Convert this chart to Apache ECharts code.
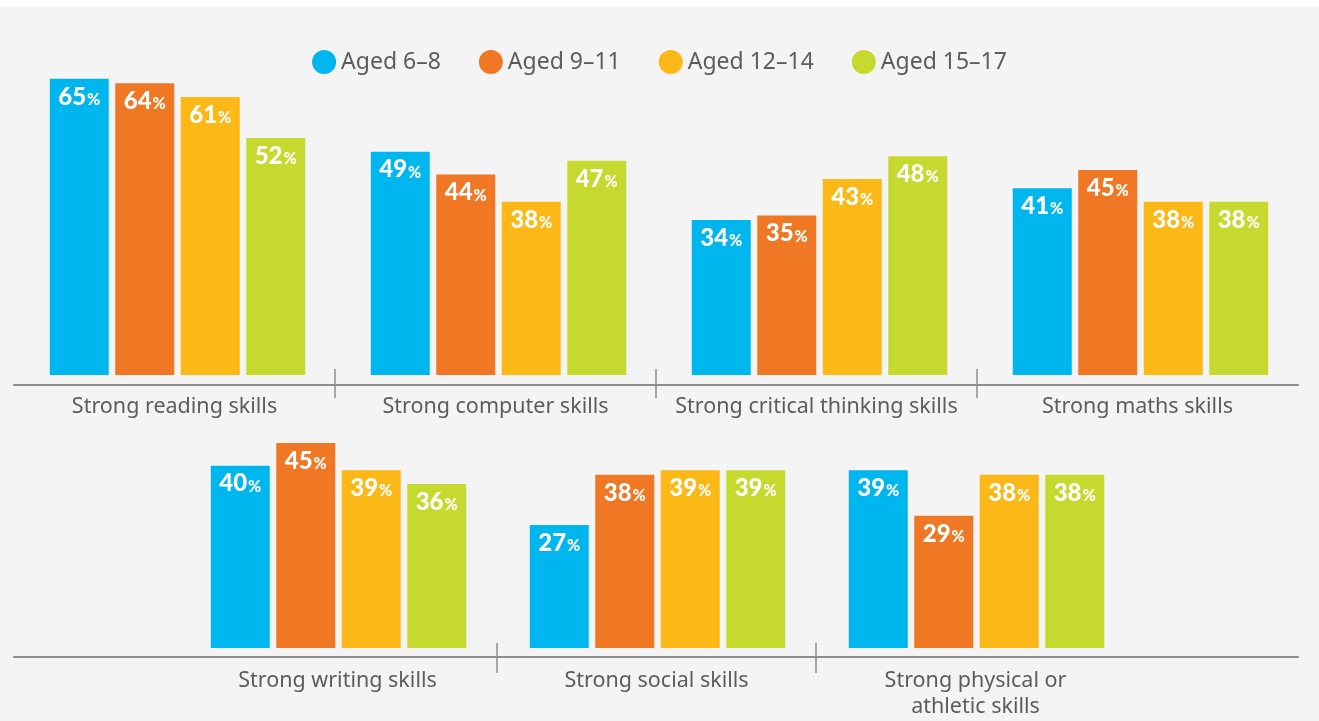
<!DOCTYPE html>
<html>
<head>
<meta charset="utf-8">
<title>Skills by age group</title>
<script src="https://cdn.jsdelivr.net/npm/echarts@6/dist/echarts.min.js"></script>
<style>
    html, body { margin: 0; padding: 0; background: #ffffff; }
    #chart {
        position: absolute;
        top: 7px;
        left: 0;
        width: 1319px;
        height: 714px;
        background: #f4f4f4;
    }
</style>
</head>
<body>
<div id="chart"></div>
<script>
    // skills, first row has 4, second row has 3
    var skills = [
        'Strong reading skills', 'Strong computer skills', 'Strong critical thinking skills', 'Strong maths skills',
        'Strong writing skills', 'Strong social skills', 'Strong physical or\nathletic skills'
    ];
    var topRowCount = 4;

    var ageGroups = ['Aged 6–8', 'Aged 9–11', 'Aged 12–14', 'Aged 15–17'];
    var aged6to8   = [65, 49, 34, 41, 40, 27, 39];
    var aged9to11  = [64, 44, 35, 45, 45, 38, 29];
    var aged12to14 = [61, 38, 43, 38, 39, 39, 38];
    var aged15to17 = [52, 47, 48, 38, 36, 39, 38];
    var colors = ['#00b6ef', '#f07824', '#fcb816', '#c6d92e'];

    var values = [aged6to8, aged9to11, aged12to14, aged15to17];
    var topSkills = skills.slice(0, topRowCount);
    var bottomSkills = skills.slice(topRowCount);

    var chart = echarts.init(document.getElementById('chart'));

    var lineColor = '#8e8e8e';
    var labelFont = {
        fontFamily: 'Noto Sans',
        fontSize: 21.5,
        color: '#5c5c5c'
    };

    function valueLabel() {
        return {
            show: true,
            position: 'insideTop',
            distance: 6,
            formatter: function (p) {
                return '{n|' + p.value + '}{p|%}';
            },
            rich: {
                n: {
                    fontFamily: 'Lato',
                    fontWeight: 900,
                    fontSize: 24,
                    color: '#ffffff',
                    verticalAlign: 'bottom'
                },
                p: {
                    fontFamily: 'Lato',
                    fontWeight: 900,
                    fontSize: 16,
                    color: '#ffffff',
                    verticalAlign: 'bottom',
                    padding: [0, 0, 1, 1]
                }
            }
        };
    }

    var series = [];
    ageGroups.forEach(function (name, i) {
        series.push({
            name: name,
            type: 'bar',
            xAxisIndex: 0,
            yAxisIndex: 0,
            barWidth: 59,
            barGap: '11%',
            itemStyle: { color: colors[i] },
            label: valueLabel(),
            data: values[i].slice(0, topRowCount)
        });
    });
    ageGroups.forEach(function (name, i) {
        series.push({
            name: name,
            type: 'bar',
            xAxisIndex: 2,
            yAxisIndex: 2,
            barWidth: 59,
            barGap: '11%',
            itemStyle: { color: colors[i] },
            label: valueLabel(),
            data: values[i].slice(topRowCount)
        });
    });

    chart.setOption({
        animation: false,
        legend: {
            data: ageGroups,
            top: 38,
            left: 'center',
            icon: 'circle',
            itemWidth: 24,
            itemHeight: 25,
            itemGap: 38,
            textStyle: {
                fontFamily: 'Noto Sans',
                fontSize: 23,
                color: '#5c5c5c'
            }
        },
        grid: [
            // top row bars
            { left: 17, width: 1284, top: 49, height: 319 },
            // top row axis line, dividers and labels
            { left: 14, width: 1284, top: 362, height: 29 },
            // bottom row bars
            { left: 179, width: 957, top: 322, height: 319 },
            // bottom row full width axis line
            { left: 14, width: 1284, top: 640, height: 10 },
            // bottom row dividers and labels
            { left: 178, width: 957, top: 636, height: 30 }
        ],
        xAxis: [
            {
                gridIndex: 0, type: 'category', data: topSkills,
                axisLine: { show: false }, axisTick: { show: false }, axisLabel: { show: false }
            },
            {
                gridIndex: 1, type: 'category', data: topSkills, offset: -16,
                axisLine: { show: true, lineStyle: { color: lineColor, width: 2 } },
                axisTick: { show: false },
                splitLine: {
                    show: true, interval: 0, showMinLine: false, showMaxLine: false,
                    lineStyle: { color: lineColor, width: 1.5 }
                },
                axisLabel: Object.assign({ interval: 0, margin: 12, lineHeight: 26 }, labelFont)
            },
            {
                gridIndex: 2, type: 'category', data: bottomSkills,
                axisLine: { show: false }, axisTick: { show: false }, axisLabel: { show: false }
            },
            {
                gridIndex: 3, type: 'value', min: 0, max: 1,
                axisLine: { show: true, lineStyle: { color: lineColor, width: 2 } },
                axisTick: { show: false }, axisLabel: { show: false }, splitLine: { show: false }
            },
            {
                gridIndex: 4, type: 'category', data: bottomSkills, offset: -16,
                axisLine: { show: false },
                axisTick: { show: false },
                splitLine: {
                    show: true, interval: 0, showMinLine: false, showMaxLine: false,
                    lineStyle: { color: lineColor, width: 1.5 }
                },
                axisLabel: Object.assign({ interval: 0, margin: 11, lineHeight: 26 }, labelFont)
            }
        ],
        yAxis: [
            { gridIndex: 0, type: 'value', min: 0, max: 70, show: false },
            { gridIndex: 1, type: 'value', min: 0, max: 1, show: false },
            { gridIndex: 2, type: 'value', min: 0, max: 70, show: false },
            { gridIndex: 3, type: 'value', min: 0, max: 1, show: false },
            { gridIndex: 4, type: 'value', min: 0, max: 1, show: false }
        ],
        series: series
    });
</script>
</body>
</html>
